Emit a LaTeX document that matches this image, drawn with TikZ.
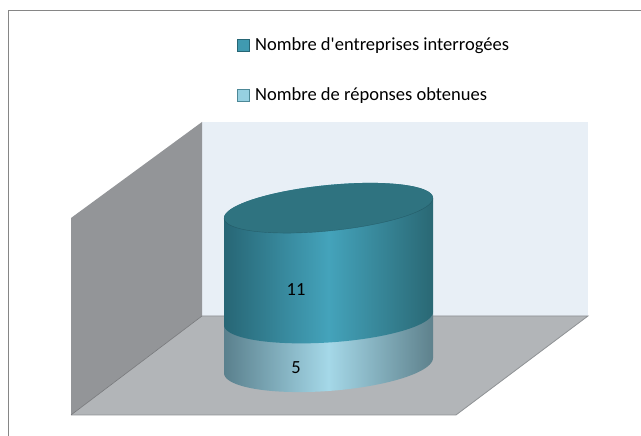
\documentclass[tikz,border=0pt]{standalone}
\usepackage{fontspec}
\setmainfont{Carlito}
\begin{document}
\begin{tikzpicture}[x=1pt,y=1pt,
  lbl/.style={font=\fontsize{18.5}{20}\selectfont, text=black, inner sep=0pt},
  legbox/.style={minimum size=12pt, inner sep=0pt, line width=1pt},
]
\definecolor{wallback}{HTML}{E8EFF6}
\definecolor{wallleft}{HTML}{939598}
\definecolor{floorc}{HTML}{B2B5B8}
\definecolor{edgec}{HTML}{8E9194}
\definecolor{topface}{HTML}{2F7380}
\definecolor{upL}{HTML}{276675}
\definecolor{upM}{HTML}{44A3BB}
\definecolor{upR}{HTML}{2A6874}
\definecolor{loL}{HTML}{5A808D}
\definecolor{loM}{HTML}{A5D8E8}
\definecolor{loR}{HTML}{5E818C}
\useasboundingbox (0,0) rectangle (641,436);
% outer frame
\draw[draw=gray!95, line width=1.5pt] (8.5,-5) -- (8.5,425.5) -- (646,425.5);
% walls and floor
\fill[wallback] (202,120) rectangle (588,314);
\fill[wallleft] (71,21) -- (71,218) -- (202,314) -- (202,120) -- cycle;
\fill[floorc] (71,21) -- (202,120) -- (588,120) -- (456,21) -- cycle;
\draw[edgec, line width=0.8pt] (202,120) -- (588,120) -- (456,21) -- (71,21);
\draw[wallleft!80!black, line width=0.6pt] (71,21) -- (202,120);
% cylinder parameters: cx=328.5, rx=104.5
\def\cx{328.5}\def\rx{104.5}
% lower segment
\shade[left color=loL, right color=loR, middle color=loM]
  plot[domain=180:360, samples=60, smooth] ({\cx+\rx*cos(\x)},{70.5+25.5*sin(\x)+7.5*cos(\x)})
  -- plot[domain=0:180, samples=60, smooth] ({\cx+\rx*cos(\x)},{117.5+24*sin(\x)+6.5*cos(\x)})
  -- cycle;
% upper segment
\shade[left color=upL, right color=upR, middle color=upM]
  plot[domain=180:360, samples=60, smooth] ({\cx+\rx*cos(\x)},{117.5+24*sin(\x)+6.5*cos(\x)})
  -- plot[domain=0:180, samples=60, smooth] ({\cx+\rx*cos(\x)},{228+23*sin(\x)+10*cos(\x)})
  -- cycle;
% top face
\fill[topface]
  plot[domain=0:360, samples=100, smooth] ({\cx+\rx*cos(\x)},{228+23*sin(\x)+10*cos(\x)}) -- cycle;
\draw[upL!70!black, line width=0.4pt, opacity=0.5]
  plot[domain=180:360, samples=60, smooth] ({\cx+\rx*cos(\x)},{228+23*sin(\x)+10*cos(\x)});
% labels
\node[lbl] (v11) at (296,146) {11};
\node[lbl] (v5) at (296,68) {5};
% legend
\node[legbox, draw=upL, fill=upM!85!upL] (k1) at (243,390) {};
\node[lbl, anchor=west] (t1) at (255,390) {Nombre d\textquotesingle entreprises interrogées};
\node[legbox, draw=upL!70!loM, fill=loM!85!upM] (k2) at (243,340) {};
\node[lbl, anchor=west] (t2) at (255,340) {Nombre de réponses obtenues};
\end{tikzpicture}
\end{document}
